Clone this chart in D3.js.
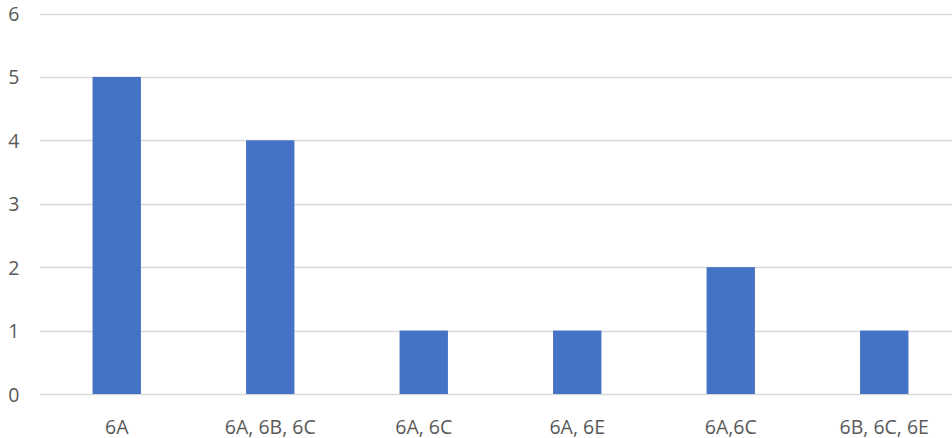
<!DOCTYPE html>
<html><head><meta charset="utf-8">
<script src="https://cdn.jsdelivr.net/npm/d3@7"></script>
<style>body{margin:0;background:#fff}svg{display:block}</style>
</head><body>
<script>
const categories = ["6A", "6A, 6B, 6C", "6A, 6C", "6A, 6E", "6A,6C", "6B, 6C, 6E"];
const values = [5, 4, 1, 1, 2, 1];
const yTicks = [0, 1, 2, 3, 4, 5, 6];

const W = 952, H = 438;
const mLeft = 40, mRight = 961, mTop = 13.5, mBottom = 394;
const svg = d3.select("body").append("svg").attr("width", W).attr("height", H);

const x = d3.scaleBand().domain(categories).range([mLeft, mRight]).paddingInner(0.685).paddingOuter(0.3425);
const y = d3.scaleLinear().domain([0, 6]).range([mBottom, mTop]);

const font = "'Open Sans', 'Liberation Sans', Arial, sans-serif";

svg.append("g").selectAll("line").data(yTicks).join("line")
  .attr("x1", mLeft).attr("x2", W)
  .attr("y1", d => Math.round(y(d)) + 0.5).attr("y2", d => Math.round(y(d)) + 0.5)
  .attr("stroke", "#d9d9d9").attr("stroke-width", 1.5);

svg.append("g").selectAll("text").data(yTicks).join("text")
  .attr("x", 19.5).attr("y", d => y(d))
  .attr("text-anchor", "end").attr("dominant-baseline", "central")
  .attr("font-family", font).attr("font-size", 19.5).attr("fill", "#595959")
  .text(d => d);

svg.append("g").selectAll("rect").data(categories).join("rect")
  .attr("x", d => x(d)).attr("width", x.bandwidth())
  .attr("y", (d, i) => y(values[i])).attr("height", (d, i) => y(0) - y(values[i]))
  .attr("fill", "#4472C4");

svg.append("g").selectAll("text").data(categories).join("text")
  .attr("x", d => x(d) + x.bandwidth() / 2).attr("y", 426)
  .attr("text-anchor", "middle").attr("dominant-baseline", "central")
  .attr("font-family", font).attr("font-size", 19.5).attr("fill", "#595959")
  .text(d => d);
</script>
</body></html>
